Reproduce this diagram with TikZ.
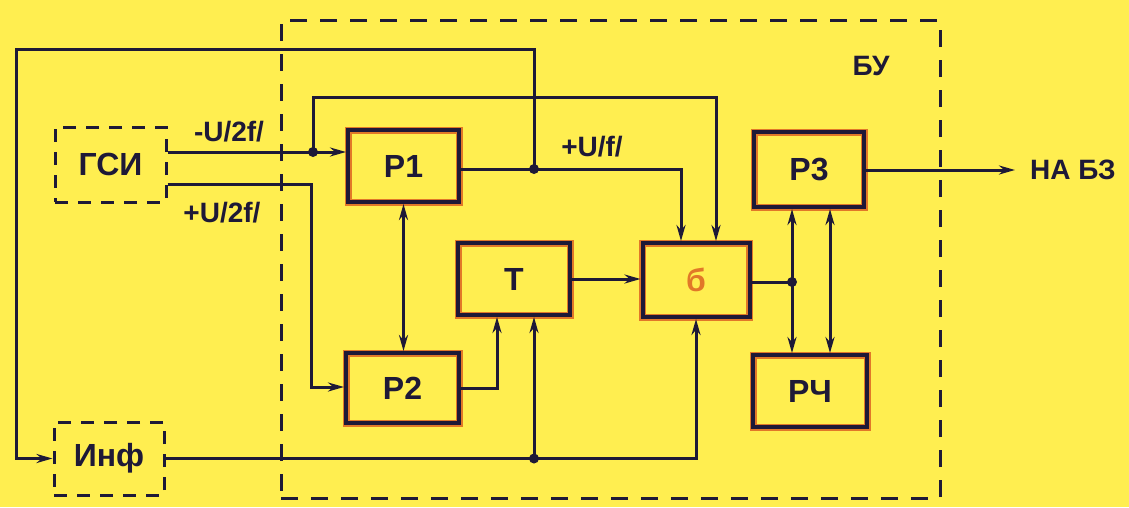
\documentclass[tikz,border=0pt]{standalone}
\usepackage{fontspec}
\setmainfont{Liberation Sans}
\usetikzlibrary{arrows.meta}
\definecolor{bg}{RGB}{255,238,80}
\definecolor{ink}{RGB}{30,25,55}
\definecolor{halo}{RGB}{225,120,40}
\begin{document}
\begin{tikzpicture}[x=1pt,y=-1pt,
  >={Stealth[length=16pt,width=9pt]},
  blk/.style={draw=ink, line width=4pt, preaction={draw=halo, line width=7pt},
    inner sep=0pt, font=\fontsize{32}{36}\selectfont\bfseries, text=ink},
  dbox/.style={draw=ink, line width=3pt, dash pattern=on 13pt off 10pt,
    inner sep=0pt, font=\fontsize{32}{36}\selectfont\bfseries, text=ink},
  bubox/.style={draw=ink, line width=3pt, dash pattern=on 17pt off 13pt, inner sep=0pt},
  conn/.style={draw=ink, line width=3pt},
  lbl/.style={text=ink, inner sep=0pt, font=\fontsize{28}{32}\selectfont\bfseries},
  dot/.style={fill=ink}
]
\fill[bg] (0,0) rectangle (1129,507);
\useasboundingbox (0,0) rectangle (1129,507);

% outer dashed block
\node[bubox, minimum width=659pt, minimum height=478pt] (bu) at (610.5,259) {};
\node[lbl] (bulbl) at (871,66) {БУ};

% blocks
\node[dbox, minimum width=111pt, minimum height=75pt] (gsi) at (110.5,164.5) {ГСИ};
\node[dbox, minimum width=110pt, minimum height=73pt] (inf) at (109,458.5) {Инф};
\node[blk, minimum width=111pt, minimum height=72pt] (p1) at (403.5,166) {Р1};
\node[blk, minimum width=113pt, minimum height=70pt] (p2) at (402.5,388) {Р2};
\node[blk, minimum width=112pt, minimum height=72pt] (t) at (514,279) {Т};
\node[blk, minimum width=107pt, minimum height=74pt, text=halo] (b) at (696,280) {б};
\node[blk, minimum width=110pt, minimum height=75pt] (p3) at (809,169.5) {Р3};
\node[blk, minimum width=114pt, minimum height=72pt] (p4) at (810,391) {РЧ};
\node[lbl, anchor=west] (nab) at (1030,170) {НА БЗ};

% labels
\node[lbl] (l1) at (229,132) {-U/2f/};
\node[lbl] (l2) at (222,213) {+U/2f/};
\node[lbl] (l3) at (592,147) {+U/f/};

% junctions and bends
\coordinate (d1) at (313,152);
\coordinate (d2) at (534,169);
\coordinate (d3) at (534,458.5);
\coordinate (d4) at (792,282);
\coordinate (k1) at (716,97);
\coordinate (k2) at (681,169);
\coordinate (k3) at (16,49);
\coordinate (k4) at (311,184);
\coordinate (k5) at (311,387);
\coordinate (k6) at (497,388);
\coordinate (k8) at (830,200);

% connectors
\draw[conn,->] (gsi.east |- d1) -- (d1) -- (p1.west |- d1);
\draw[conn,->] (d1) |- (k1) -- (k1 |- b.north);
\draw[conn,->] (p1.east |- d2) -| (k2 |- b.north);
\draw[conn,->] (d2) |- (k3) |- (inf.west);
\draw[conn,->] (gsi.east |- k4) -- (k4) -- (k5) -- (p2.west |- k5);
\draw[conn,<->] (p1.south) -- (p1.south |- p2.north);
\draw[conn,->] (p2.east |- k6) -- (k6) -- (k6 |- t.south);
\draw[conn,->] (inf.east) -| (b.south);
\draw[conn,->] (d3) -- (d3 |- t.south);
\draw[conn,->] (t.east) -- (t.east -| b.west);
\draw[conn] (b.east |- d4) -- (d4);
\draw[conn,->] (d4) -- (d4 |- p3.south);
\draw[conn,->] (d4) -- (d4 |- p4.north);
\draw[conn,<->] (k8 |- p3.south) -- (k8 |- p4.north);
\draw[conn,->,shorten >=15pt] (p3.east |- nab.west) -- (nab.west);

% junction dots
\fill[dot] (d1) circle (5pt);
\fill[dot] (d2) circle (5pt);
\fill[dot] (d3) circle (5pt);
\fill[dot] (d4) circle (5pt);
\end{tikzpicture}
\end{document}
